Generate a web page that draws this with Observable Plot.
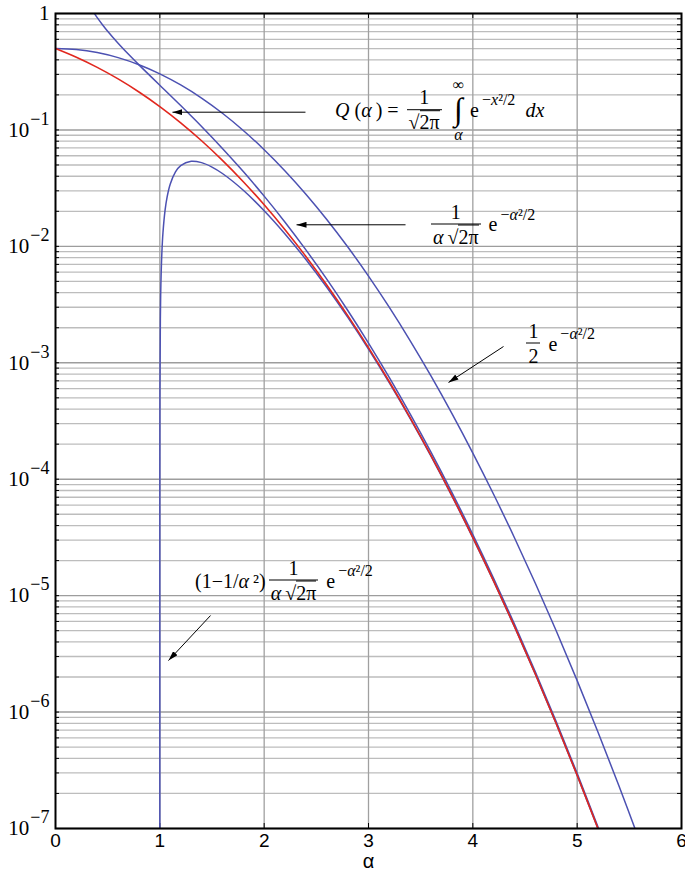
<!DOCTYPE html>
<html>
<head>
<meta charset="utf-8">
<script src="https://cdn.jsdelivr.net/npm/d3@7"></script>
<script src="https://cdn.jsdelivr.net/npm/@observablehq/plot@0.6"></script>
<style>
  html, body { margin: 0; padding: 0; background: #fff; }
  #wrap { position: relative; width: 685px; height: 875px; }
  .fm {
    position: absolute; display: flex; align-items: center;
    font-family: "Liberation Serif", "Times New Roman", serif; font-size: 20px;
    color: #000; white-space: nowrap; transform: translateY(-50%); line-height: 1.1;
  }
  .frac { display: inline-flex; flex-direction: column; align-items: center; margin: 0 3px; }
  .frac .num { border-bottom: 1.3px solid #000; align-self: stretch; text-align: center; padding-bottom: 1px; }
  .frac .den { padding: 1px 2px 0; }
  .sq { border-top: 1.3px solid #000; }
  .sup { position: relative; top: -0.6em; font-size: 0.8em; margin-left: 3px; }
  .intg { display: inline-flex; flex-direction: column; align-items: center; margin: 0 6px 0 8px; line-height: 1; }
  .intg .big { font-size: 32px; line-height: 1.05; }
  .intg .sm { font-size: 16px; }
</style>
</head>
<body>
<div id="wrap"></div>
<script>
// Q(α): Gaussian tail probability
const qAlpha = [0, 0.2, 0.4, 0.6, 0.8, 1.0, 1.2, 1.4, 1.6, 1.8, 2.0, 2.2, 2.4, 2.6, 2.8, 3.0, 3.2, 3.4, 3.6, 3.8, 4.0, 4.2, 4.4, 4.6, 4.8, 5.0, 5.2];
const qValue = [0.5, 0.42074, 0.344578, 0.274253, 0.211855, 0.158655, 0.11507, 0.080757, 0.054799, 0.03593, 0.02275, 0.013903, 0.008198, 0.004661, 0.002555, 0.0013499, 0.00068714, 0.00033693, 0.00015911, 7.2348e-5, 3.1671e-5, 1.3346e-5, 5.4125e-6, 2.1125e-6, 7.9333e-7, 2.8665e-7, 9.9644e-8];

// upper bound 1/(α√2π) e^(−α²/2)
const tailAlpha = [0.37, 0.4, 0.45, 0.5, 0.6, 0.7, 0.8, 0.9, 1.0, 1.2, 1.4, 1.6, 1.8, 2.0, 2.2, 2.4, 2.6, 2.8, 3.0, 3.2, 3.4, 3.6, 3.8, 4.0, 4.2, 4.4, 4.6, 4.8, 5.0, 5.2, 5.4];
const tailValue = [1.0069, 0.920675, 0.801171, 0.70413, 0.555375, 0.446077, 0.362115, 0.29565, 0.241971, 0.161822, 0.106948, 0.069326, 0.043861, 0.026996, 0.016125, 0.009331, 0.005224, 0.002827, 0.0014773, 0.000745, 0.00036241, 0.00016997, 7.683e-5, 3.3458e-5, 1.4033e-5, 5.669e-6, 2.2046e-6, 8.252e-7, 2.9734e-7, 1.031e-7, 3.4394e-8];

// bound ½ e^(−α²/2)
const halfAlpha = [0, 0.2, 0.4, 0.6, 0.8, 1.0, 1.2, 1.4, 1.6, 1.8, 2.0, 2.2, 2.4, 2.6, 2.8, 3.0, 3.2, 3.4, 3.6, 3.8, 4.0, 4.2, 4.4, 4.6, 4.8, 5.0, 5.2, 5.4, 5.6];
const halfValue = [0.5, 0.4901, 0.461558, 0.417635, 0.363075, 0.303265, 0.243376, 0.187656, 0.139019, 0.09895, 0.067668, 0.044461, 0.028068, 0.017024, 0.009921, 0.005554, 0.002988, 0.0015444, 0.0007669, 0.0003659, 0.00016773, 7.3875e-5, 3.1261e-5, 1.271e-5, 4.9648e-6, 1.8633e-6, 6.7191e-7, 2.3279e-7, 7.7488e-8];

// lower bound (1 − 1/α²) 1/(α√2π) e^(−α²/2), which vanishes at α = 1
const lowAlpha = [1.0000001, 1.000001, 1.00001, 1.0001, 1.001, 1.005, 1.01, 1.02, 1.03, 1.05, 1.07, 1.1, 1.15, 1.2, 1.3, 1.4, 1.5, 1.6, 1.8, 2.0, 2.2, 2.4, 2.6, 2.8, 3.0, 3.2, 3.4, 3.6, 3.8, 4.0, 4.2, 4.4, 4.6, 4.8, 5.0, 5.2, 5.4];
const lowValue = [4.84e-8, 4.84e-7, 4.84e-6, 4.84e-5, 4.823e-4, 0.0023776, 0.0046734, 0.0090277, 0.013081, 0.020354, 0.02662, 0.034372, 0.043667, 0.049446, 0.053821, 0.052383, 0.04797, 0.042246, 0.030324, 0.020247, 0.012793, 0.007711, 0.0044512, 0.0024664, 0.0013132, 0.00067225, 0.00033106, 0.00015686, 7.1509e-5, 3.1367e-5, 1.3237e-5, 5.3762e-6, 2.1004e-6, 7.894e-7, 2.8545e-7, 9.929e-8, 3.3215e-8];

// axis ticks
const xTicks = [0, 1, 2, 3, 4, 5, 6];
const decades = [1, 1e-1, 1e-2, 1e-3, 1e-4, 1e-5, 1e-6, 1e-7];
const minorSteps = [2, 3, 4, 5, 6, 7, 8, 9];

// pointers from each formula to its curve
const arrowFromX = [2.396, 3.355, 4.294, 1.486];
const arrowFromY = [0.142, 0.01532, 1.380e-3, 6.75e-6];
const arrowToX = [1.121, 2.310, 3.767, 1.083];
const arrowToY = [0.142, 0.01532, 6.77e-4, 2.77e-6];

// formula labels: left edge and vertical centre
const SQ = `√<span class="sq">2π</span>`;
const noteX = [2.684, 3.575, 4.49, 1.342];
const noteY = [0.1469, 0.01541, 1.464e-3, 1.349e-5];
const noteHtml = [
  `<i>Q</i>&nbsp;(<i>α</i>&thinsp;)&nbsp;=&nbsp;<span class="frac"><span class="num">1</span><span class="den">${SQ}</span></span><span class="intg"><span class="sm">∞</span><span class="big">∫</span><span class="sm"><i>α</i></span></span>e<span class="sup">−<i>x</i>²/2</span>&nbsp;&nbsp;<i>dx</i>`,
  `<span class="frac"><span class="num">1</span><span class="den"><i>α</i>&thinsp;${SQ}</span></span>&nbsp;e<span class="sup">−<i>α</i>²/2</span>`,
  `<span class="frac"><span class="num">1</span><span class="den">2</span></span>&nbsp;e<span class="sup">−<i>α</i>²/2</span>`,
  `(1−1/<i>α</i>&thinsp;²)<span class="frac"><span class="num">1</span><span class="den"><i>α</i>&thinsp;${SQ}</span></span>&nbsp;e<span class="sup">−<i>α</i>²/2</span>`
];

const minorTicks = decades.slice(1).flatMap(d => minorSteps.map(k => k * d));
const allYTicks = decades.concat(minorTicks);
const series = (xs, ys) => xs.map((a, i) => ({a, v: ys[i]}));
const arrows = arrowFromX.map((x1, i) => ({x1, y1: arrowFromY[i], x2: arrowToX[i], y2: arrowToY[i]}));

const blue = "#4c51b2";
const red = "#e1271e";
const plotW = 685 - 55 - 4;
const plotH = 875 - 13 - 47;

const chart = Plot.plot({
  width: 685,
  height: 875,
  marginLeft: 55,
  marginRight: 4,
  marginTop: 13,
  marginBottom: 47,
  style: {fontFamily: "'Liberation Sans', Arial, sans-serif", fontSize: "19px", background: "#fff", overflow: "visible"},
  x: {domain: [0, 6]},
  y: {type: "log", domain: [1e-7, 1]},
  marks: [
    // grid
    Plot.ruleY(minorTicks, {stroke: "#bdbdbd", strokeWidth: 1.3}),
    Plot.ruleY(decades, {stroke: "#9d9d9d", strokeWidth: 1.4}),
    Plot.ruleX(xTicks.slice(1, -1), {stroke: "#a0a0a0", strokeWidth: 1.3}),
    // inward ticks on all four sides
    Plot.tickY(allYTicks, {y: d => d, insetRight: plotW - 4, stroke: "#000"}),
    Plot.tickY(allYTicks, {y: d => d, insetLeft: plotW - 4, stroke: "#000"}),
    Plot.tickX(xTicks, {x: d => d, insetBottom: plotH - 5, stroke: "#000"}),
    Plot.tickX(xTicks, {x: d => d, insetTop: plotH - 5, stroke: "#000"}),
    // curves
    Plot.line(series(halfAlpha, halfValue), {x: "a", y: "v", stroke: blue, strokeWidth: 1.5, curve: "catmull-rom", clip: true}),
    Plot.line(series(tailAlpha, tailValue), {x: "a", y: "v", stroke: blue, strokeWidth: 1.5, curve: "catmull-rom", clip: true}),
    Plot.line(series(lowAlpha, lowValue), {x: "a", y: "v", stroke: blue, strokeWidth: 1.5, curve: "catmull-rom", clip: true}),
    Plot.line(series(qAlpha, qValue), {x: "a", y: "v", stroke: red, strokeWidth: 1.6, curve: "catmull-rom", clip: true}),
    // pointers
    Plot.link(arrows, {x1: "x1", y1: "y1", x2: "x2", y2: "y2", stroke: "#000", strokeWidth: 1}),
    // box
    Plot.frame({stroke: "#000", strokeWidth: 2}),
    // axes
    Plot.axisY({ticks: decades, tickSize: 0, tickPadding: 6, label: null, fontSize: 21,
      fontFamily: "'Liberation Serif', 'Times New Roman', serif",
      tickFormat: d => d === 1 ? "1" : "10^−" + Math.round(-Math.log10(d))}),
    Plot.axisX({ticks: xTicks, tickSize: 0, tickPadding: 5, label: null, fontSize: 19, tickFormat: d => String(d)}),
    Plot.text(["α"], {frameAnchor: "bottom", dy: 39, fontSize: 20, text: d => d})
  ]
});

const wrap = document.getElementById("wrap");
wrap.appendChild(chart);

const svg = d3.select(chart);

// powers of ten as superscripts
svg.selectAll('g[aria-label="y-axis tick label"] text').each(function () {
  const s = this.textContent;
  if (!s.includes("^")) return;
  const [base, exp] = s.split("^");
  const t = d3.select(this);
  t.text(base);
  t.append("tspan").attr("dy", -12).attr("font-size", 18).attr("dx", 1).text(exp);
});

// solid arrowheads on the pointers
svg.append("defs").append("marker")
  .attr("id", "head").attr("viewBox", "0 0 10 6").attr("refX", 10).attr("refY", 3)
  .attr("markerWidth", 10).attr("markerHeight", 6).attr("markerUnits", "userSpaceOnUse").attr("orient", "auto")
  .append("path").attr("d", "M0,0L10,3L0,6Z").attr("fill", "#000");
svg.selectAll('g[aria-label="link"] path').attr("marker-end", "url(#head)");

// formula labels
const sx = chart.scale("x"), sy = chart.scale("y");
noteHtml.forEach((html, i) => {
  const div = document.createElement("div");
  div.className = "fm";
  div.innerHTML = html;
  div.style.left = sx.apply(noteX[i]) + "px";
  div.style.top = sy.apply(noteY[i]) + "px";
  wrap.appendChild(div);
});
</script>
</body>
</html>
